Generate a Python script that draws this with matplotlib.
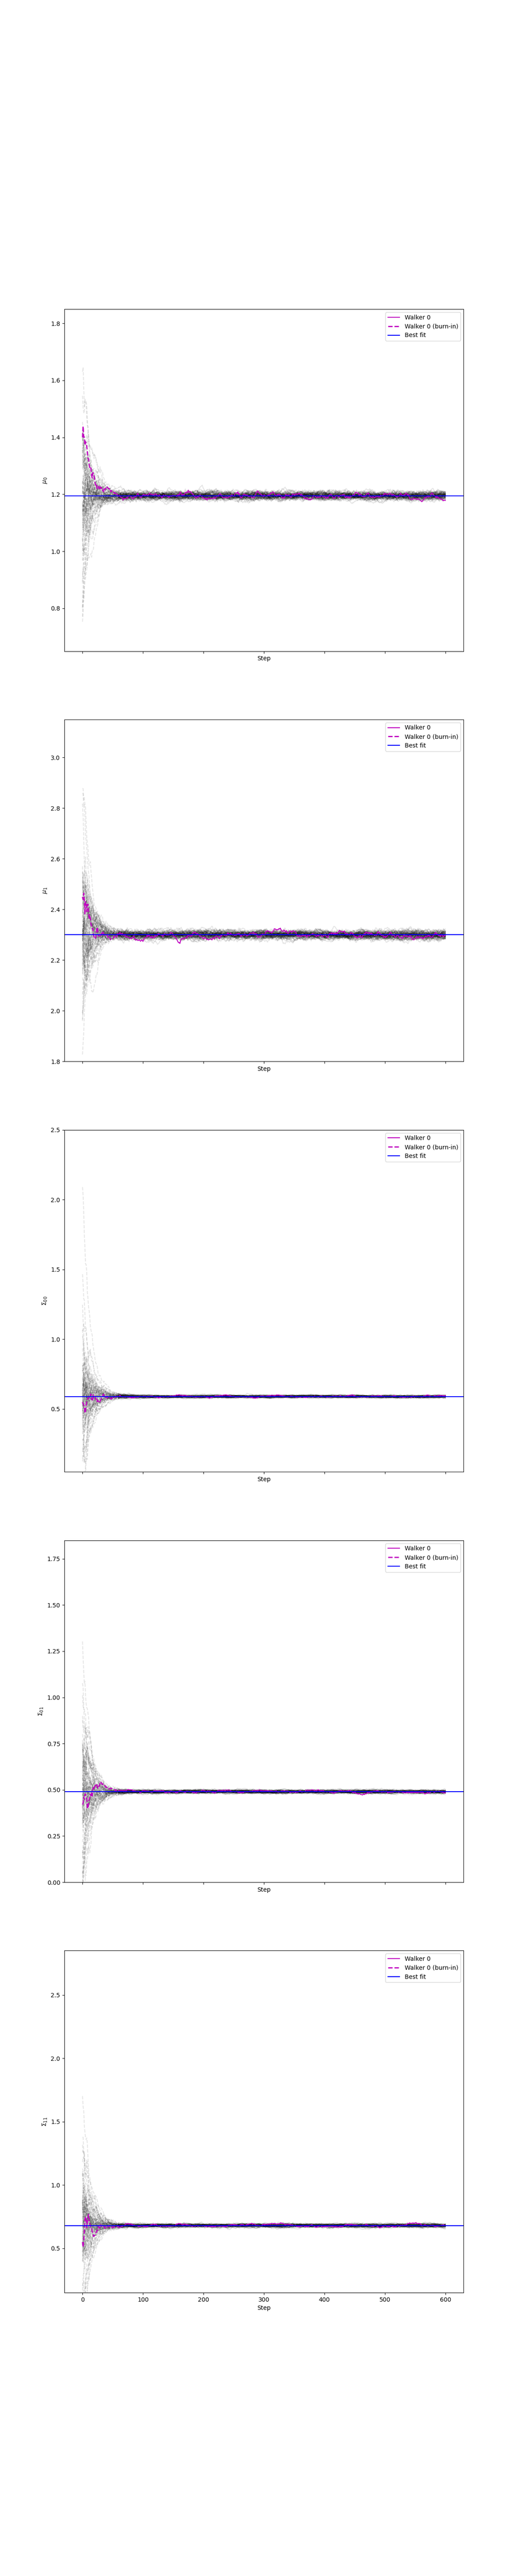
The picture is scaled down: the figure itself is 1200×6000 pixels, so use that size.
import numpy as np
import matplotlib
matplotlib.use('Agg')
import matplotlib.pyplot as plt

# values
labels = [r'$\mu_0$', r'$\mu_1$', r'$\Sigma_{00}$', r'$\Sigma_{01}$', r'$\Sigma_{11}$']
best_fit = [1.195, 2.30, 0.59, 0.49, 0.68]
start_spread = [0.17, 0.20, 0.30, 0.25, 0.35]
post_width = [0.003, 0.0035, 0.002, 0.002, 0.003]
walker0_start = [1.40, 2.45, 0.55, 0.42, 0.55]
ylims = [(0.65, 1.85), (1.8, 3.15), (0.05, 2.5), (0.0, 1.85), (0.15, 2.85)]

n_steps = 601
n_walkers = 64
burn_in = 60

# MCMC traces cannot be read point by point; simulate chains that settle on the best fit
rng = np.random.default_rng(3)


def make_chain(best, spread, width, w0):
    chain = np.empty((n_steps, n_walkers))
    start = best + spread * rng.standard_normal(n_walkers) * np.exp(0.4 * rng.standard_normal(n_walkers))
    start = np.clip(start, best - 2.6 * spread, best + 5 * spread)
    start[0] = w0
    chain[0] = start
    for t in range(1, n_steps):
        s = width + spread * 0.18 * np.exp(-t / 14.0)
        chain[t] = best + (chain[t - 1] - best) * 0.92 + s * rng.standard_normal(n_walkers)
    return chain


fig, axes = plt.subplots(5, 1, figsize=(12, 60), sharex=True)
steps = np.arange(n_steps)
for i, ax in enumerate(axes):
    chain = make_chain(best_fit[i], start_spread[i], post_width[i], walker0_start[i])
    ax.plot(steps[:burn_in + 1], chain[:burn_in + 1, 1:], color='k', ls='--', alpha=0.1)
    ax.plot(steps[burn_in:], chain[burn_in:, 1:], color='k', alpha=0.1)
    ax.plot(steps[burn_in:], chain[burn_in:, 0], color='m', label='Walker 0')
    ax.plot(steps[:burn_in + 1], chain[:burn_in + 1, 0], color='m', ls='--', lw=2, label='Walker 0 (burn-in)')
    ax.axhline(best_fit[i], color='b', lw=1.5, label='Best fit')
    ax.set_ylim(*ylims[i])
    ax.set_ylabel(labels[i])
    ax.set_xlabel('Step')
    ax.legend(loc='upper right')
    ax.tick_params(labelbottom=(i == 4))

plt.savefig('out.png', dpi=100)
